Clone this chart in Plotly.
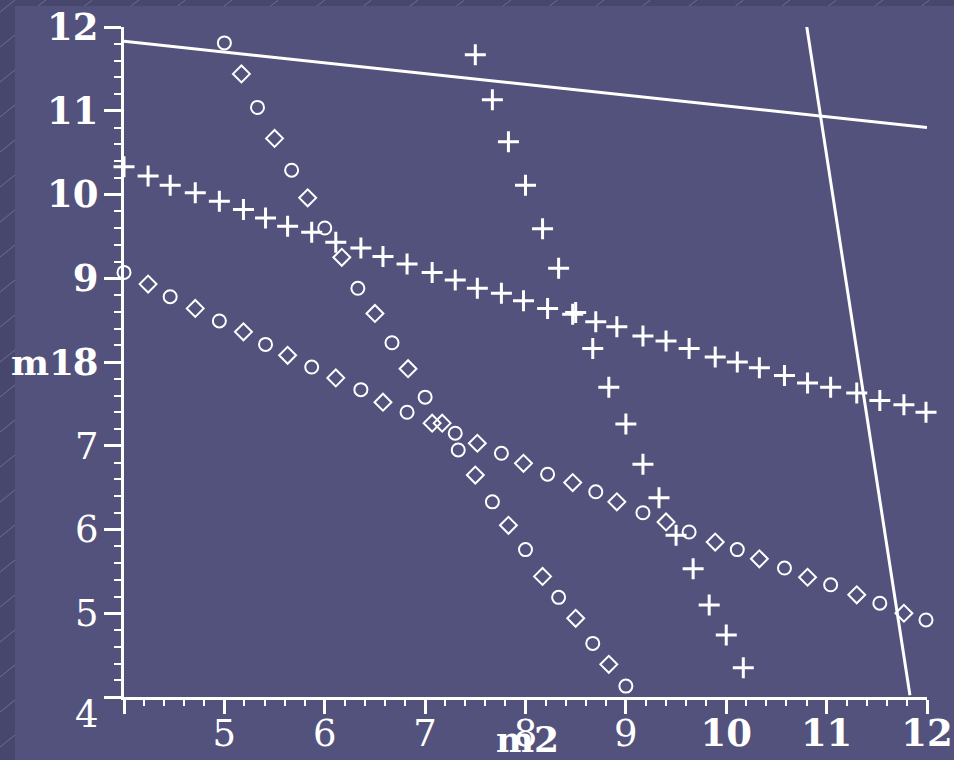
import plotly.graph_objects as go

# ---------------- data ----------------
x_ticks = [4, 5, 6, 7, 8, 9, 10, 11, 12]
x_tick_labels = ["4", "5", "6", "7", "8", "9", "10", "11", "12"]
y_ticks = [4, 5, 6, 7, 8, 9, 10, 11, 12]
y_tick_labels = ["4", "5", "6", "7", "8", "9", "10", "11", "12"]
x_title = "m2"
y_title = "m1"

# straight lines
line1_x = [4.0, 12.0]
line1_y = [11.83, 10.80]
line2_x = [10.80, 11.83]
line2_y = [12.02, 4.02]

# shallow series share this grid
shallow_x = [4.00, 4.24, 4.46, 4.71, 4.95, 5.19, 5.41, 5.63, 5.87, 6.11,
             6.36, 6.58, 6.82, 7.07, 7.30, 7.52, 7.76, 7.98, 8.22, 8.47,
             8.70, 8.91, 9.17, 9.40, 9.63, 9.89, 10.11, 10.33, 10.58, 10.81,
             11.04, 11.30, 11.53, 11.77, 11.99]
# plus markers, upper shallow
plus_shallow_y = [10.33, 10.22, 10.11, 10.02, 9.92, 9.82, 9.72, 9.62, 9.55, 9.43,
                  9.36, 9.26, 9.17, 9.07, 8.98, 8.88, 8.82, 8.73, 8.64, 8.57,
                  8.48, 8.42, 8.31, 8.25, 8.16, 8.06, 8.00, 7.93, 7.84, 7.75,
                  7.70, 7.63, 7.54, 7.49, 7.40]
# circle markers, lower shallow
circ_shallow_y = [9.07, 8.93, 8.78, 8.64, 8.49, 8.36, 8.21, 8.08, 7.94, 7.81,
                  7.67, 7.52, 7.40, 7.27, 7.15, 7.03, 6.91, 6.79, 6.66, 6.56,
                  6.45, 6.33, 6.20, 6.09, 5.97, 5.85, 5.76, 5.65, 5.54, 5.43,
                  5.34, 5.22, 5.12, 5.00, 4.92]

# plus markers, steep
plus_steep_x = [7.50, 7.67, 7.83, 8.00, 8.17, 8.33, 8.50, 8.67, 8.83, 9.00,
                9.17, 9.33, 9.50, 9.67, 9.83, 10.00, 10.17]
plus_steep_y = [11.67, 11.13, 10.63, 10.11, 9.59, 9.12, 8.59, 8.16, 7.70, 7.26,
                6.78, 6.38, 5.93, 5.53, 5.10, 4.74, 4.35]

# circle markers, steep
circ_steep_x = [5.00, 5.17, 5.33, 5.50, 5.67, 5.83, 6.00, 6.17, 6.33, 6.50,
                6.67, 6.83, 7.00, 7.17, 7.33, 7.50, 7.67, 7.83, 8.00, 8.17,
                8.33, 8.50, 8.67, 8.83, 9.00]
circ_steep_y = [11.81, 11.44, 11.04, 10.67, 10.29, 9.96, 9.60, 9.25, 8.88, 8.58,
                8.23, 7.92, 7.58, 7.27, 6.95, 6.65, 6.33, 6.05, 5.76, 5.44,
                5.19, 4.94, 4.64, 4.39, 4.13]

# ---------------- style ----------------
BG = "#53527D"
STRIP = "#47466C"
WHITE = "white"
FONT = "DejaVu Serif, Liberation Serif, serif"
FS = 37

W, H = 954, 760
L, R, T, B = 124, 27, 27, 63
PW, PH = W - L - R, H - T - B


def px_to_paper(px, py):
    return (px - L) / PW, (H - B - py) / PH


def alt_symbols(n):
    return [("circle-open" if i % 2 == 0 else "diamond-open") for i in range(n)]


fig = go.Figure()

for lx, ly in ((line1_x, line1_y), (line2_x, line2_y)):
    fig.add_trace(go.Scatter(x=lx, y=ly, mode="lines",
                             line=dict(color=WHITE, width=3),
                             cliponaxis=False, hoverinfo="skip"))

plus_marker = dict(symbol="cross-thin-open", size=15, color=WHITE,
                   line=dict(color=WHITE, width=3))
fig.add_trace(go.Scatter(x=shallow_x, y=plus_shallow_y, mode="markers",
                         marker=plus_marker, cliponaxis=False))
fig.add_trace(go.Scatter(x=plus_steep_x, y=plus_steep_y, mode="markers",
                         marker=plus_marker, cliponaxis=False))
fig.add_trace(go.Scatter(x=shallow_x, y=circ_shallow_y, mode="markers",
                         marker=dict(symbol=alt_symbols(len(shallow_x)), size=13,
                                     color=WHITE,
                                     line=dict(color=WHITE, width=2)),
                         cliponaxis=False))
fig.add_trace(go.Scatter(x=circ_steep_x, y=circ_steep_y, mode="markers",
                         marker=dict(symbol=alt_symbols(len(circ_steep_x)), size=13,
                                     color=WHITE,
                                     line=dict(color=WHITE, width=2)),
                         cliponaxis=False))

bold_x = {"10", "11", "12"}
bold_y = {"8", "9", "10", "11", "12"}
x_text = [f"<b>{t}</b>" if t in bold_x else t for t in x_tick_labels]
x_text[0] = ""  # the corner "4" is drawn once, below-left of the origin
y_text = [f"<b>{t}</b>" if t in bold_y else t for t in y_tick_labels]
y_text[0] = ""

axis_common = dict(showgrid=False, zeroline=False, showline=True,
                   linecolor=WHITE, linewidth=3, ticks="outside",
                   tickcolor=WHITE, tickwidth=3, automargin=False,
                   ticklabeloverflow="allow",
                   tickfont=dict(family=FONT, size=FS, color=WHITE),
                   tickmode="array")

fig.update_xaxes(range=[4, 12], tickvals=x_ticks, ticktext=x_text, ticklen=14,
                 ticklabelstandoff=-12,
                 minor=dict(dtick=0.2, ticks="outside", ticklen=6, tickwidth=2,
                            tickcolor=WHITE, showgrid=False),
                 **axis_common)
fig.update_yaxes(range=[4, 12], tickvals=y_ticks, ticktext=y_text, ticklen=17,
                 ticklabelstandoff=-2,
                 minor=dict(dtick=0.2, ticks="outside", ticklen=7, tickwidth=2,
                            tickcolor=WHITE, showgrid=False),
                 **axis_common)

# background strips of the slide
shapes = []
x0, y0 = px_to_paper(0, 0)
x1, y1 = px_to_paper(15, H)
shapes.append(dict(type="rect", xref="paper", yref="paper", x0=x0, x1=x1,
                   y0=y1, y1=y0, fillcolor=STRIP, line=dict(width=0), layer="below"))
x1b, y1b = px_to_paper(W, 6)
shapes.append(dict(type="rect", xref="paper", yref="paper", x0=x0, x1=x1b,
                   y0=y1b, y1=y0, fillcolor=STRIP, line=dict(width=0), layer="below"))
for k in range(23):
    py = 12 + k * 35
    a = px_to_paper(0, py)
    b = px_to_paper(15, py - 12)
    shapes.append(dict(type="line", xref="paper", yref="paper", x0=a[0], y0=a[1],
                       x1=b[0], y1=b[1], line=dict(color="#6E6D92", width=1),
                       layer="below"))
for k in range(21):
    pxs = 38 + k * 46.5
    a = px_to_paper(pxs, 6)
    b = px_to_paper(pxs + 8, 0)
    shapes.append(dict(type="line", xref="paper", yref="paper", x0=a[0], y0=a[1],
                       x1=b[0], y1=b[1], line=dict(color="#6E6D92", width=1),
                       layer="below"))

ax4, ay4 = px_to_paper(101, 714)
am1x, am1y = px_to_paper(42, 362)
am2x, am2y = px_to_paper(527, 716)

fig.update_layout(
    width=W, height=H, autosize=False,
    margin=dict(l=L, r=R, t=T, b=B, pad=0, autoexpand=False),
    paper_bgcolor=BG, plot_bgcolor=BG,
    showlegend=False,
    shapes=shapes,
    annotations=[
        dict(text=y_tick_labels[0], xref="paper", yref="paper", x=ax4, y=ay4,
             xanchor="right", yanchor="middle", showarrow=False,
             font=dict(family=FONT, size=FS, color=WHITE)),
        dict(text=f"<b>{y_title}</b>", xref="paper", yref="paper", x=am1x, y=am1y,
             xanchor="center", yanchor="middle", showarrow=False,
             font=dict(family=FONT, size=36, color=WHITE)),
        dict(text=f"<b>{x_title}</b>", xref="paper", yref="paper", x=am2x, y=am2y,
             xanchor="center", yanchor="top", showarrow=False,
             font=dict(family=FONT, size=36, color=WHITE)),
    ],
)

fig.write_html("out.html", config={"displayModeBar": False},
               post_script="document.body.style.margin='0';"
                           "document.body.style.background='" + BG + "';")
